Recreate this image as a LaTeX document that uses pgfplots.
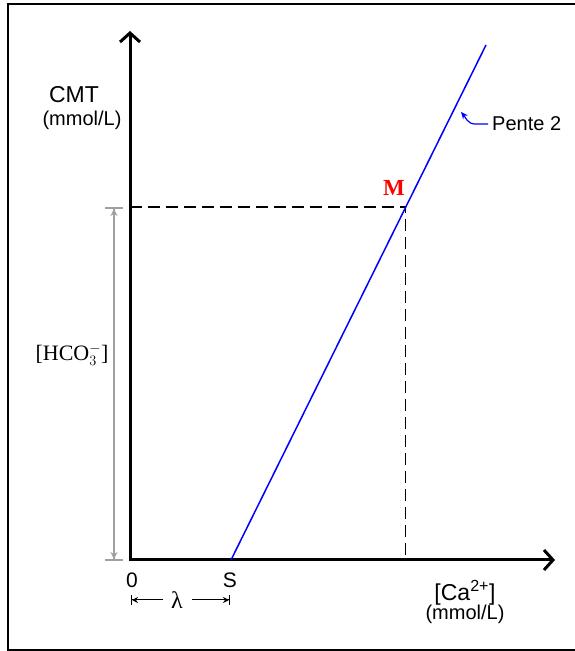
\documentclass[border=0pt]{standalone}
\usepackage{pgfplots}
\pgfplotsset{compat=1.18}
\usepackage{fontspec}
\setmainfont{Liberation Sans}
\newfontfamily\serif{Liberation Serif}
\usetikzlibrary{arrows.meta}
\definecolor{lineblue}{RGB}{0,0,255}
\definecolor{barg}{RGB}{160,160,160}
\definecolor{mred}{RGB}{255,0,0}
\begin{document}
\begin{tikzpicture}
\begin{axis}[x=1pt,y=1pt,xmin=-122,xmax=448,ymin=-90,ymax=556,
  ticks=none, axis line style={line width=2pt}, clip=false]
\coordinate (bbll) at (axis cs:-130,-91);
\coordinate (bbur) at (axis cs:444,560);
% axes
\addplot[line width=3pt, line join=miter,
  {Straight Barb[length=9pt,width=20pt]}-{Straight Barb[length=9pt,width=20pt]}]
  coordinates {(0,529) (0,0) (425,0)};
% dashed guides
\addplot[black, line width=1.5pt, dash pattern=on 12pt off 6pt]
  coordinates {(0,353) (275.5,353) (275.5,0)};
% line
\addplot[lineblue, line width=1.5pt] coordinates {(101,0) (356,515)};
% gray double arrow
\addplot[barg, line width=2pt,
  {Bar[width=18pt]Stealth[length=7pt,width=7pt]}-{Stealth[length=7pt,width=7pt]Bar[width=18pt]}]
  coordinates {(-16,353) (-16,-1)};
% lambda arrows
\addplot[black, line width=1pt, {Bar[width=10pt]Stealth[length=6pt,width=6pt]}-]
  coordinates {(1,-40) (33,-40)};
\addplot[black, line width=1pt, -{Stealth[length=6pt,width=6pt]Bar[width=10pt]}]
  coordinates {(62,-40) (100,-40)};
% pente arrow
\draw[lineblue, line width=1.2pt, -{Stealth[length=7pt,width=6pt]}]
  (axis cs:358,436) -- (axis cs:345,436) to[out=180,in=-50] (axis cs:331,448);
% texts
\node[font=\fontsize{23}{24}\selectfont] at (axis cs:-56,465) {CMT};
\node[font=\fontsize{20}{22}\selectfont] at (axis cs:-48,440) {(mmol/L)};
\node[font=\fontsize{22}{24}\selectfont\serif] at (axis cs:-58,205) {[HCO$_3^-$]};
\node[font=\fontsize{21}{24}\selectfont] at (axis cs:2,-20) {0};
\node[font=\fontsize{21}{24}\selectfont] at (axis cs:100,-20) {S};
\node[font=\fontsize{24}{24}\selectfont\serif] at (axis cs:47,-40) {λ};
\node[font=\fontsize{23}{24}\selectfont] at (axis cs:335,-33) {[Ca\textsuperscript{2+}]};
\node[font=\fontsize{20}{22}\selectfont] at (axis cs:335,-54) {(mmol/L)};
\node[font=\fontsize{23}{24}\selectfont\serif\bfseries, text=mred] at (axis cs:264,372) {M};
\node[font=\fontsize{20}{24}\selectfont, anchor=west, inner sep=0pt] at (axis cs:362,436) {Pente 2};
\end{axis}
\pgfresetboundingbox
\path[use as bounding box] (bbll) rectangle (bbur);
\end{tikzpicture}
\end{document}
